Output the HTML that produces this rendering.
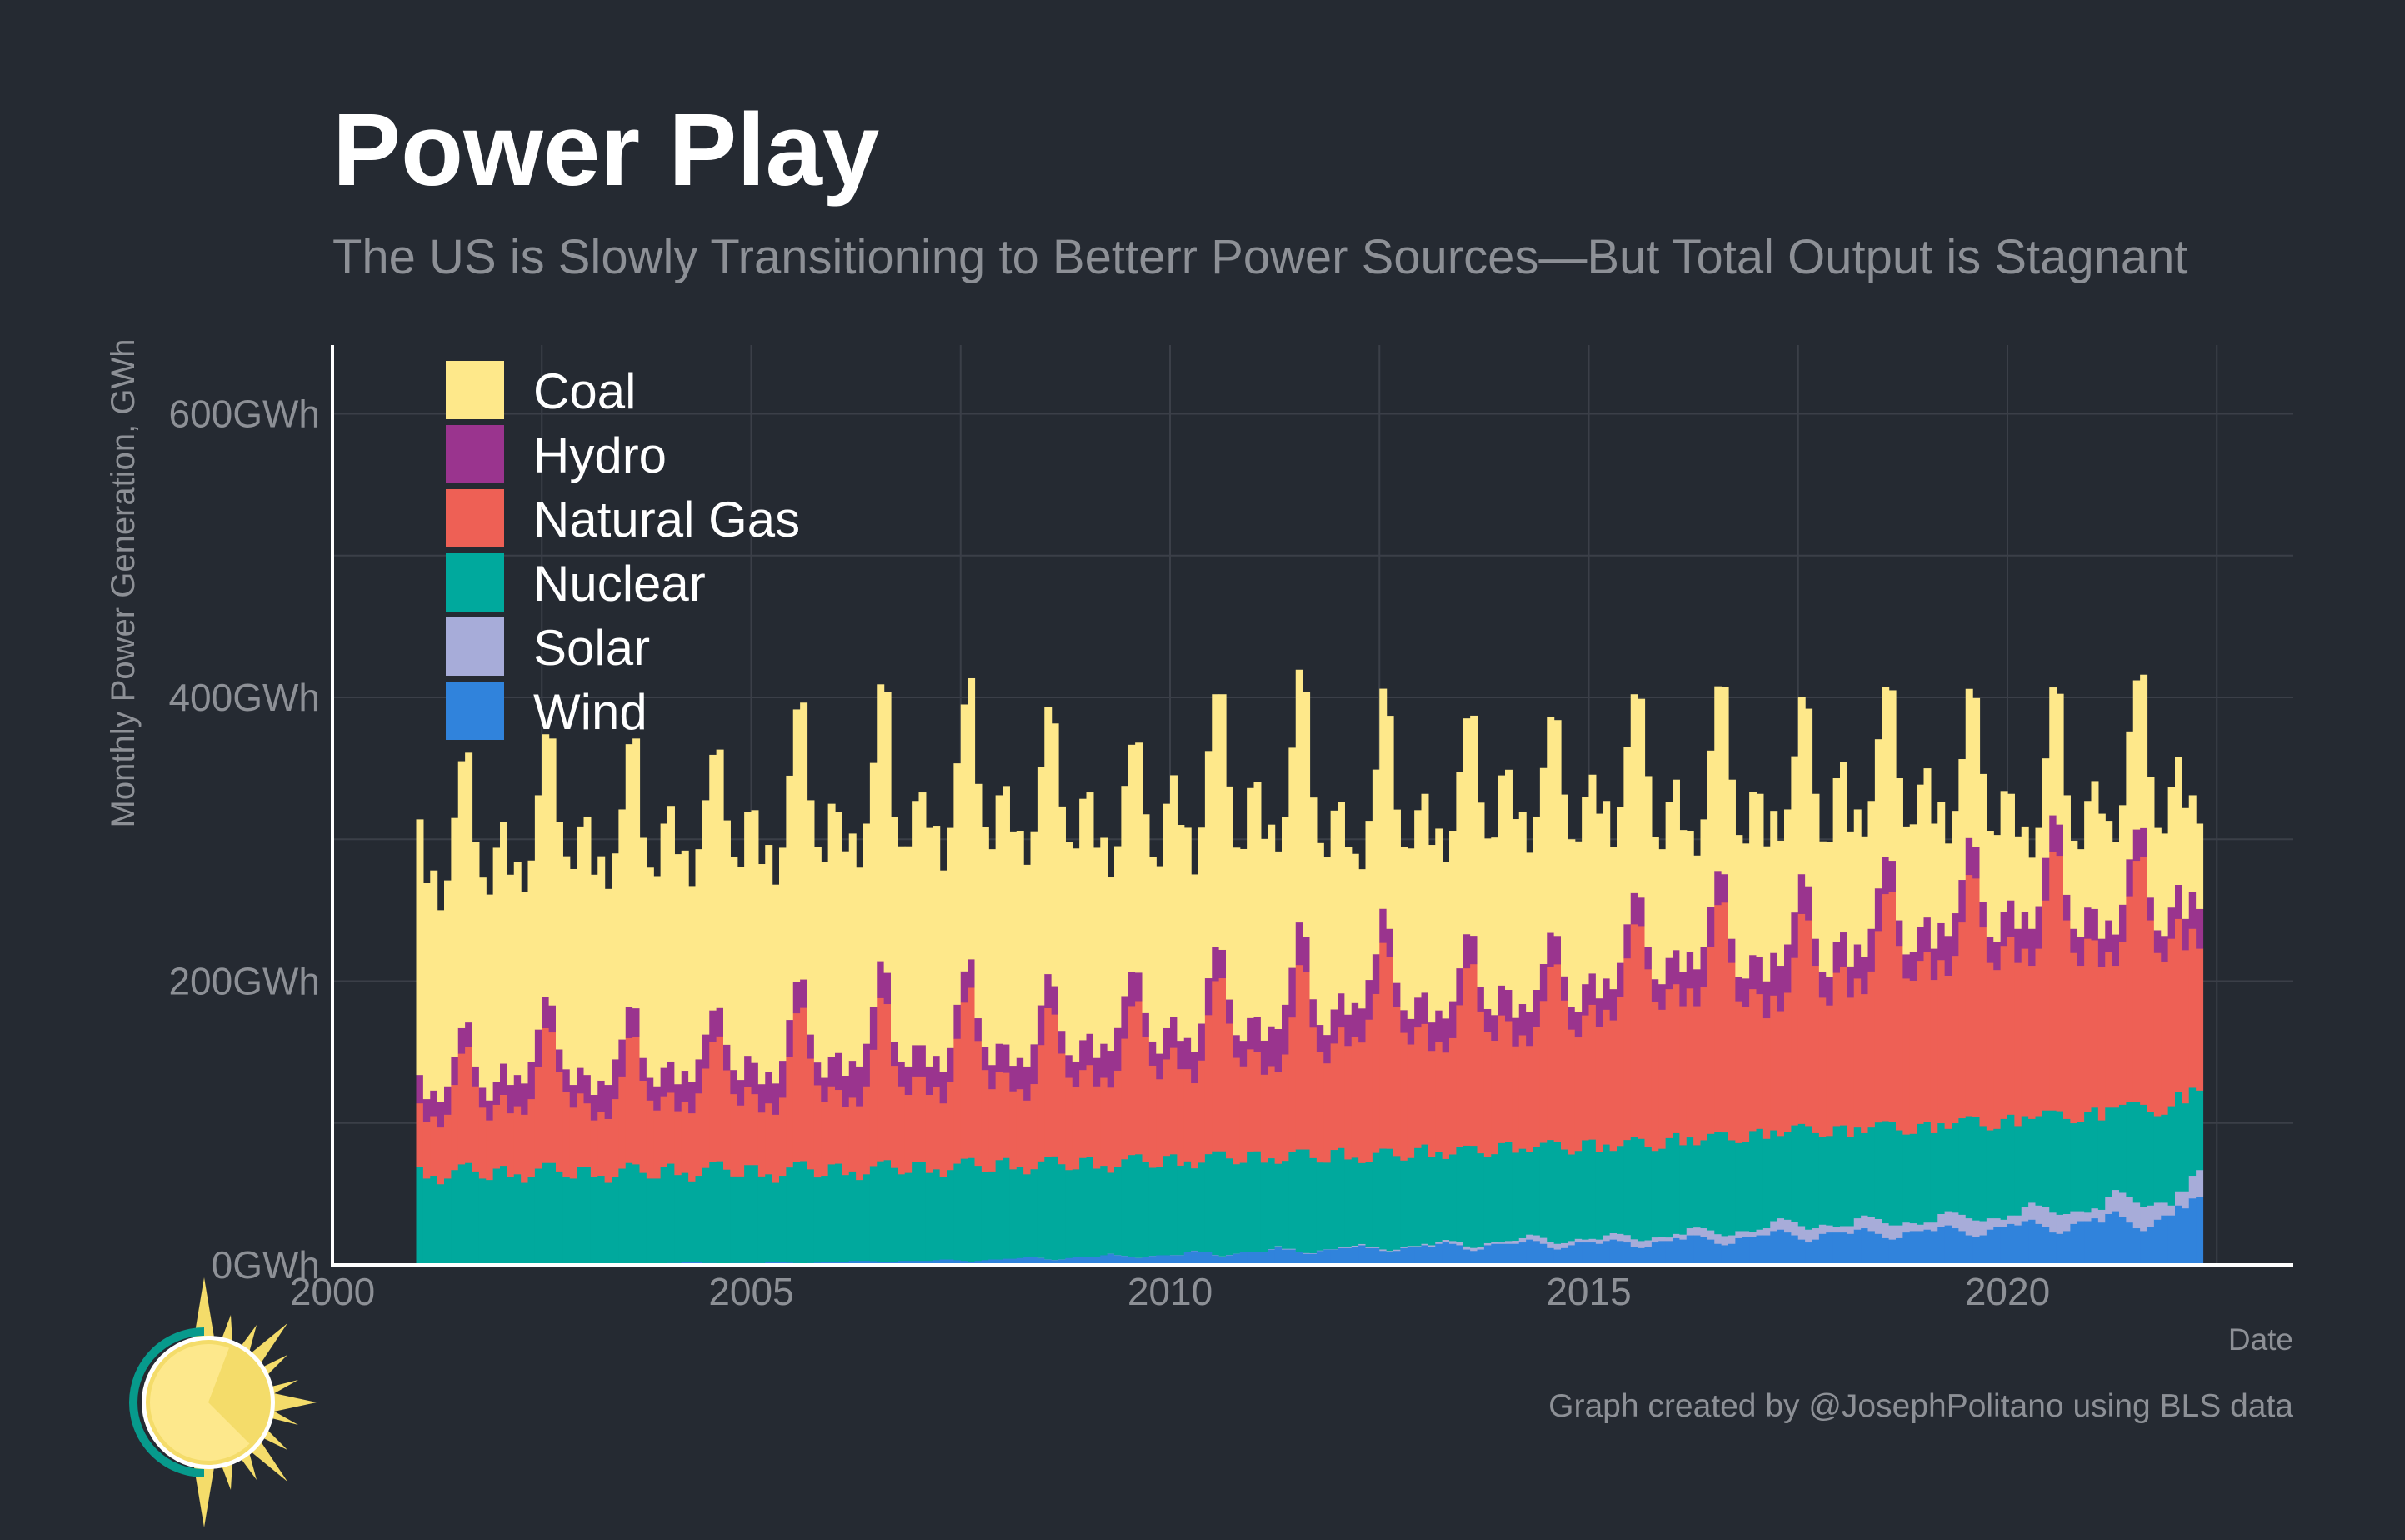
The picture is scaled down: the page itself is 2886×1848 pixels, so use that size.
<!DOCTYPE html>
<html><head><meta charset="utf-8">
<style>
html,body{margin:0;padding:0;background:#252a32;}
body{width:2886px;height:1843px;overflow:hidden;font-family:"Liberation Sans",Arial,sans-serif;}
</style></head>
<body>
<svg id="chart" width="2886" height="1843" xmlns="http://www.w3.org/2000/svg" font-family="Liberation Sans, Arial, sans-serif">
<rect width="2886" height="1843" fill="#252a32"/>
<text x="399" y="222" font-size="123" font-weight="bold" fill="#ffffff">Power Play</text>
<text x="399" y="328" font-size="58" fill="#8d9096">The US is Slowly Transitioning to Betterr Power Sources—But Total Output is Stagnant</text>
<g id="grid"></g>
<g id="bars"></g>
<g id="axes"></g>
<g id="legend"></g>
<text transform="translate(161,700) rotate(-90)" text-anchor="middle" font-size="40" fill="#8d9096">Monthly Power Generation, GWh</text>
<text x="2752" y="1620" text-anchor="end" font-size="37" fill="#8d9096">Date</text>
<text x="2752" y="1700" text-anchor="end" font-size="39" fill="#8d9096">Graph created by @JosephPolitano using BLS data</text>
<g transform="translate(250,1683)">
  <g fill="#f4dc6a">
    <polygon points="-5,-150 10,-60 -20,-60"/>
    <polygon points="-5,150 10,60 -20,60"/>
    <polygon points="130,0 60,-15 60,15"/>
    <polygon points="95,-95 40,-50 55,-35"/>
    <polygon points="95,95 40,50 55,35"/>
    <polygon points="27,-105 10,-60 30,-55"/>
    <polygon points="27,105 10,60 30,55"/>
    <polygon points="58,-93 30,-55 45,-45"/>
    <polygon points="58,93 30,55 45,45"/>
    <polygon points="95,-57 50,-35 58,-20"/>
    <polygon points="95,57 50,35 58,20"/>
    <polygon points="108,-27 60,-15 60,0"/>
    <polygon points="108,27 60,15 60,0"/>
  </g>
  <path d="M -5,-90 A 90 90 0 0 0 -5,90 L -5,80 A 80 80 0 0 1 -5,-80 Z" fill="#079a8c"/>
  <circle cx="0" cy="0" r="80" fill="#ffffff"/>
  <circle cx="0" cy="0" r="75" fill="#f4dc6a"/>
  <circle cx="0" cy="0" r="70" fill="#fde88c"/>
  <path d="M 0,0 L 26,-68 A 73 73 0 0 1 50,50 Z" fill="#f4dc6a"/>
</g>
</svg>
<script>
const seriesNames = ["Wind","Solar","Nuclear","Natural Gas","Hydro","Coal"];
const seriesColors = ["#3083dc","#a7acd9","#00a99d","#ee6055","#9a348e","#fee88a"];
const yTicks = [0,200,400,600];
const yTickLabels = ["0GWh","200GWh","400GWh","600GWh"];
const xTicks = [2000,2005,2010,2015,2020];
const startYear = 2001;
const wind = [
1,1,1,1,1,1,1,1,1,1,1,1,
1,1,1,1,1,1,1,1,1,1,1,1,
1,1,1,1,1,1,1,1,1,1,1,1,
1.5,1.5,2,2,2,1.5,1.5,1.2,1.3,1.5,1.5,1.5,
1.5,1.5,2,2,2,1.8,1.5,1.3,1.5,1.8,2,2,
2.5,2.5,3,3,3,2.8,2.2,2,2.5,3,3,3,
3,3,3.5,4,4,3.5,3,2.5,3,3.5,4,4,
4.5,4.5,5,6,5.5,5,4,3.5,4,5,5.5,5.5,
6,6,7,8,7,6.5,5.5,5,5.5,6.5,7,7,
7,7,9,10,9,9,7,6,7,8,9,9,
9,9,11,13,11,11,9,8,8,10,11,11,
12,12,13,14,12,12,10,9,10,12,13,13,
14,13,15,16,15,14,11,10,11,14,15,15,
15,15,16,18,17,15,12,11,12,14,16,16,
16,15,17,18,17,16,13,12,13,16,17,17,
19,18,21,21,20,18,15,14,15,19,20,20,
21,21,24,25,23,21,18,16,18,22,23,23,
23,22,25,26,24,22,19,18,19,23,24,24,
25,24,27,28,26,24,21,20,21,25,27,27,
29,28,31,32,29,27,23,22,24,29,31,31,
33,30,36,38,34,30,26,24,27,32,35,35,
42,40,47,48];
const solar = [
0,0,0,0,0,0,0,0,0,0,0,0,
0,0,0,0,0,0,0,0,0,0,0,0,
0,0,0,0,0,0,0,0,0,0,0,0,
0,0,0,0,0,0,0,0,0,0,0,0,
0,0,0,0,0,0,0,0,0,0,0,0,
0,0,0,0,0,0,0,0,0,0,0,0,
0,0,0,0,0,0,0,0,0,0,0,0,
0,0,0,0,0.1,0.1,0.1,0.1,0.1,0,0,0,
0,0,0,0.1,0.1,0.1,0.1,0.1,0.1,0.1,0,0,
0.1,0.1,0.1,0.2,0.2,0.2,0.2,0.2,0.2,0.1,0.1,0.1,
0.2,0.2,0.3,0.4,0.5,0.5,0.5,0.5,0.4,0.3,0.2,0.2,
0.5,0.5,0.7,0.9,1,1.1,1.1,1,0.9,0.7,0.5,0.5,
1,1,1.5,1.8,2,2.2,2.2,2.1,1.8,1.5,1.2,1,
2,2.2,3,3.5,4,4.2,4.2,4,3.5,3,2.5,2,
2.5,3,4,4.5,5,5.2,5.2,5,4.5,3.5,3,2.5,
3,3.5,5,5.5,6,6.5,6.8,6.5,6,5,4,3.5,
4,5,7,8,9,9.5,9.5,9,8,6.5,5,4,
4.5,5.5,8,9,10,10.5,10.5,10,9,7,5.5,4.5,
5,6,9,10,11,11.5,12,11.5,10,8,6,5,
6,7,10,12,13,14,14,13.5,12,9,7,6,
7,9,12,15,17,18,18,17,15,12,9,7,
10,12,16,19];
const nuclear = [
68,60,62,56,60,66,70,71,65,60,59,67,
69,61,63,57,61,67,71,71,65,61,60,68,
68,61,62,57,61,67,71,70,64,60,60,68,
70,62,63,57,61,67,71,72,66,61,61,69,
69,61,62,56,61,67,71,72,66,60,61,69,
69,61,63,57,61,67,71,72,66,61,62,70,
70,62,64,58,63,68,72,73,67,62,62,70,
71,63,64,58,62,68,72,73,67,62,62,70,
70,62,63,57,62,68,72,73,67,62,62,70,
71,63,64,58,63,69,73,74,68,63,63,71,
71,63,64,58,62,68,72,73,67,62,61,70,
70,62,62,57,60,66,71,72,66,61,62,69,
70,62,63,57,61,67,71,72,66,61,62,70,
70,62,63,58,62,67,72,72,66,61,62,70,
70,62,64,58,62,67,72,72,66,61,62,70,
71,63,64,58,62,68,72,73,67,62,63,71,
71,63,64,58,62,68,72,73,67,62,63,71,
71,63,64,58,63,68,72,73,67,62,63,71,
71,63,64,58,63,68,72,73,67,62,63,71,
71,63,64,59,63,68,72,73,67,62,63,71,
71,63,63,58,62,67,71,72,66,61,62,70,
70,62,62,56];
const gas = [
45,40,42,40,45,60,78,82,60,50,42,45,
50,45,48,48,55,72,95,92,70,60,50,52,
45,40,45,45,55,65,88,90,65,55,48,50,
50,45,50,48,58,70,85,88,70,58,50,55,
50,45,50,48,55,78,105,108,78,65,52,55,
52,48,52,52,62,82,115,110,72,62,55,60,
60,55,58,52,62,88,110,120,88,72,58,62,
60,55,55,52,60,82,105,100,78,65,58,62,
65,58,62,60,68,85,105,108,88,72,62,68,
75,68,65,60,72,98,120,122,95,75,68,72,
70,62,65,65,75,95,130,125,92,78,70,75,
85,80,85,85,100,112,145,135,105,90,80,85,
85,75,78,75,82,100,125,128,100,88,80,90,
85,75,80,75,85,100,122,125,105,88,80,88,
95,88,95,92,105,128,150,150,125,105,98,105,
105,98,105,98,108,132,160,162,125,100,95,100,
95,85,95,88,98,118,148,145,118,98,92,108,
112,98,105,98,110,135,160,162,130,110,108,115,
120,108,115,108,118,138,170,168,140,118,112,122,
125,115,118,108,118,148,182,180,140,120,110,122,
118,108,110,100,115,145,170,175,135,115,108,118,
122,108,112,100];
const hydro = [
20,16,18,18,20,20,18,17,14,14,14,16,
22,20,22,22,26,26,22,19,16,16,16,18,
20,18,22,24,28,26,22,20,16,16,17,20,
22,19,22,22,24,24,22,20,18,17,18,22,
22,20,22,22,26,26,22,20,17,16,17,21,
26,22,26,28,30,30,26,22,17,17,20,22,
22,20,22,22,24,24,22,20,16,16,17,20,
20,18,22,24,28,28,24,20,16,16,18,21,
22,20,24,26,30,30,24,20,17,17,18,22,
22,20,22,22,26,26,24,20,17,16,18,22,
25,24,28,30,35,35,30,25,20,19,20,24,
24,22,24,24,28,28,24,20,17,16,18,21,
22,20,22,24,26,26,24,20,17,16,18,21,
22,20,22,24,26,26,24,20,17,16,18,22,
22,20,22,22,24,24,22,20,16,16,18,22,
24,24,26,26,28,28,24,20,17,17,20,24,
26,26,30,32,34,32,28,24,19,18,20,22,
24,22,24,26,30,30,26,22,18,17,20,24,
24,22,26,28,30,30,26,22,18,18,20,24,
26,24,26,26,30,30,26,22,18,17,20,22,
22,20,22,22,26,26,22,20,16,16,18,22,
24,22,26,28];
const coal = [
180,152,155,135,145,168,188,190,158,148,145,165,
170,148,150,135,142,165,185,188,160,150,152,170,
182,155,158,138,145,162,185,190,155,148,148,172,
180,162,155,138,148,165,180,182,158,150,150,172,
178,155,160,140,150,172,192,195,165,152,152,178,
170,158,160,140,155,172,195,198,158,152,155,172,
178,168,162,142,155,170,188,198,165,155,152,175,
182,165,160,142,150,168,188,185,158,150,150,170,
170,148,145,122,128,148,160,162,140,130,132,158,
170,152,148,125,138,160,178,180,150,132,135,162,
165,142,142,125,132,155,178,172,142,128,125,140,
135,118,105,98,112,130,155,150,122,115,120,132,
140,125,128,110,120,138,152,155,130,120,125,148,
155,140,135,112,122,138,152,152,128,118,120,132,
140,130,125,100,110,125,140,140,120,100,95,110,
120,100,85,80,90,110,130,132,112,100,95,115,
115,95,100,88,95,110,125,125,102,92,95,115,
120,95,95,85,90,105,120,120,100,90,90,100,
105,88,85,65,72,85,105,105,90,75,75,85,
75,65,60,50,55,70,90,92,70,62,62,75,
90,88,70,65,70,90,105,108,85,72,72,85,
90,78,68,60];
const series = [wind, solar, nuclear, gas, hydro, coal];

const NS = "http://www.w3.org/2000/svg";
const X0 = 399, X1 = 2752, Y0 = 1518, YT = 414;
function xScale(yr){ return X0 + (yr - 2000) * 100.5; }
function yScale(v){ return Y0 - v * 1.7026; }
function mk(tag, attrs, parent){ const e = document.createElementNS(NS, tag); for (const k in attrs) e.setAttribute(k, attrs[k]); parent.appendChild(e); return e; }

const grid = document.getElementById('grid');
for (let v = 100; v <= 600; v += 100) {
  const gl = mk('line', {x1:X0, x2:X1, y1:yScale(v), y2:yScale(v), stroke:'#3b3f48', 'stroke-width':2}, grid);
  
  
}
for (let yr = 2002.5; yr <= 2022.5; yr += 2.5) {
  const gl = mk('line', {x1:xScale(yr), x2:xScale(yr), y1:YT, y2:Y0, stroke:'#3b3f48', 'stroke-width':2}, grid);
  
  
}

const bars = document.getElementById('bars');
const n = coal.length;
const w = 100.5 / 12;
for (let i = 0; i < n; i++) {
  let base = 0;
  const x = xScale(startYear + i / 12);
  for (let s = 0; s < series.length; s++) {
    const v = series[s][i];
    if (v > 0) {
      const r = mk('rect', {x:x, y:yScale(base + v), width:w + 0.6, height:yScale(base) - yScale(base + v) + 0.3, fill:seriesColors[s]}, bars);
      
      
    }
    base += v;
  }
}

const axes = document.getElementById('axes');
mk('line', {x1:X0, x2:X0, y1:YT, y2:Y0+2, stroke:'#ffffff', 'stroke-width':4}, axes);
mk('line', {x1:X0-2, x2:X1, y1:Y0, y2:Y0, stroke:'#ffffff', 'stroke-width':4}, axes);
yTicks.forEach((v, i) => {
  const t = mk('text', {x:384, y:yScale(v) + 16, 'text-anchor':'end', 'font-size':46, fill:'#8d9096'}, axes);
  t.textContent = yTickLabels[i];
  
  
});
xTicks.forEach(yr => {
  const t = mk('text', {x:xScale(yr), y:1566, 'text-anchor':'middle', 'font-size':46, fill:'#8d9096'}, axes);
  t.textContent = String(yr);
  
  
});

const legend = document.getElementById('legend');
const legendOrder = [5,4,3,2,1,0];
legendOrder.forEach((s, i) => {
  const y = 433 + i * 77;
  const r = mk('rect', {x:535, y:y, width:70, height:70, fill:seriesColors[s]}, legend);
  
  
  const t = mk('text', {x:640, y:y + 57, 'font-size':60, fill:'#ffffff'}, legend);
  t.textContent = seriesNames[s];
  
  
});
</script>
</body></html>
